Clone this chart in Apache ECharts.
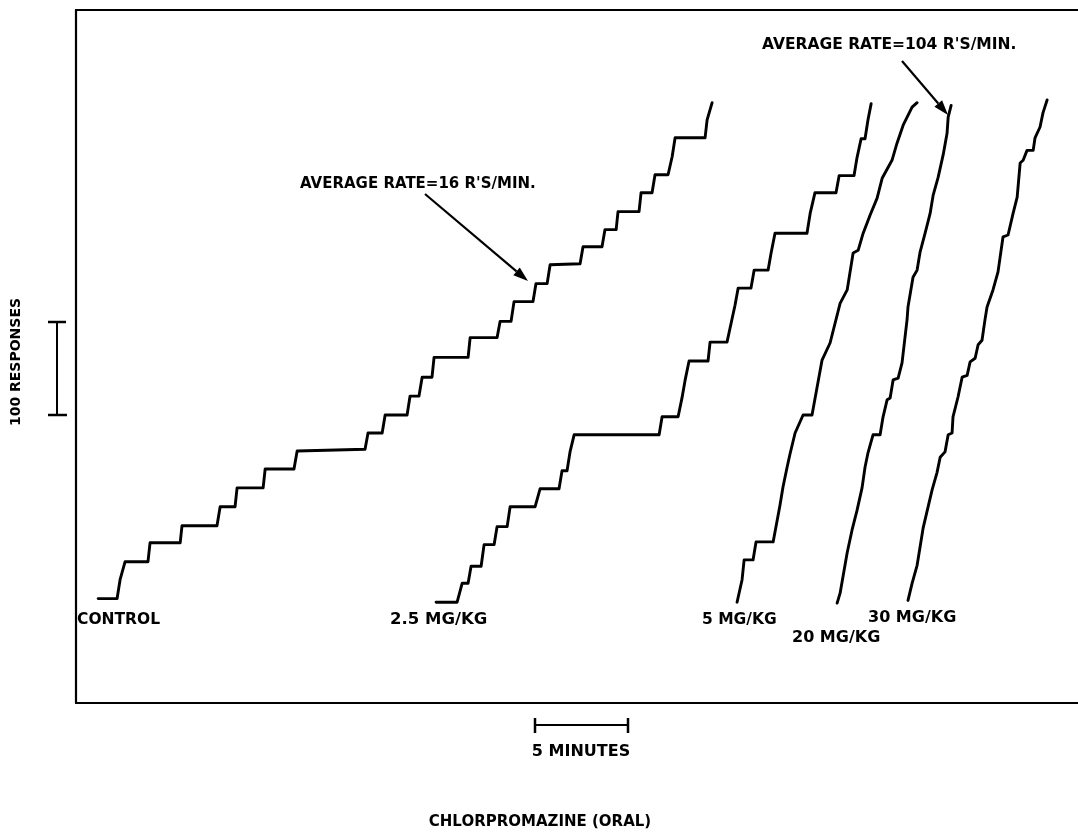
<!DOCTYPE html>
<html>
<head>
<meta charset="utf-8">
<script src="https://cdn.jsdelivr.net/npm/echarts@6/dist/echarts.min.js"></script>
<style>html,body{margin:0;padding:0;background:#fff;}#c{width:1078px;height:835px;}</style>
</head>
<body>
<div id="c"></div>
<script>
// Cumulative records: [time (min), cumulative responses]
const curveNames = ['CONTROL', '2.5 MG/KG', '5 MG/KG', '20 MG/KG', '30 MG/KG'];
const control = [[1.24,116],[2.26,116],[2.42,137],[2.69,157],[3.92,157],[4.03,178],[5.65,178],[5.75,197],[7.63,197],[7.80,218],[8.60,218],[8.71,239],[10.11,239],[10.22,260],[11.77,260],[11.94,280],[15.59,282],[15.75,300],[16.51,300],[16.67,320],[17.85,320],[18.01,341],[18.49,341],[18.66,362],[19.19,362],[19.30,384],[21.13,384],[21.24,406],[22.69,406],[22.85,424],[23.44,424],[23.60,446],[24.62,446],[24.78,466],[25.38,466],[25.54,487],[27.15,488],[27.31,507],[28.33,507],[28.49,526],[29.09,526],[29.19,546],[30.32,546],[30.43,567],[31.02,567],[31.18,587],[31.88,587],[32.10,607],[32.26,628],[33.87,628],[33.98,648],[34.25,667]];
const mg2_5 = [[19.41,112],[20.54,112],[20.81,133],[21.13,133],[21.29,152],[21.83,152],[21.99,176],[22.53,176],[22.69,196],[23.23,196],[23.39,218],[24.73,218],[25.00,238],[26.02,238],[26.18,258],[26.45,258],[26.61,279],[26.83,298],[31.40,298],[31.56,318],[32.42,318],[32.63,339],[32.80,359],[33.01,380],[34.03,380],[34.14,401],[35.05,401],[35.27,422],[35.48,442],[35.65,461],[36.34,461],[36.51,481],[37.26,481],[37.42,500],[37.63,522],[39.35,522],[39.52,544],[39.78,567],[40.91,567],[41.08,586],[41.88,586],[42.04,606],[42.26,627],[42.47,627],[42.63,648],[42.80,666]];
const mg5 = [[35.59,112],[35.86,137],[35.97,159],[36.45,159],[36.61,179],[37.53,179],[37.90,220],[38.06,240],[38.28,262],[38.44,277],[38.71,300],[39.14,320],[39.62,320],[40.16,381],[40.59,400],[41.13,444],[41.51,459],[41.83,500],[42.10,503],[42.37,522],[42.74,542],[43.12,561],[43.39,583],[43.92,603],[44.19,622],[44.52,642],[45.00,662],[45.27,667]];
const mg20 = [[40.97,111],[41.13,122],[41.51,167],[41.77,192],[42.04,214],[42.31,239],[42.47,262],[42.63,278],[42.90,298],[43.28,298],[43.44,318],[43.66,337],[43.82,339],[43.98,359],[44.25,361],[44.46,378],[44.73,426],[44.78,440],[45.05,473],[45.27,481],[45.43,501],[45.70,522],[45.97,544],[46.13,564],[46.40,584],[46.67,609],[46.88,633],[46.94,651],[47.10,664]];
const mg30 = [[44.78,114],[45.00,133],[45.27,153],[45.59,194],[45.86,218],[46.08,237],[46.34,256],[46.51,273],[46.77,279],[46.94,298],[47.15,300],[47.20,318],[47.47,340],[47.69,362],[47.96,364],[48.12,379],[48.39,383],[48.55,398],[48.76,403],[48.92,426],[49.03,440],[49.35,459],[49.62,479],[49.89,518],[50.16,520],[50.43,544],[50.65,562],[50.81,600],[50.97,603],[51.18,614],[51.51,614],[51.61,628],[51.88,640],[52.04,656],[52.26,670]];
const curves = [control, mg2_5, mg5, mg20, mg30];
const rateNotes = ["AVERAGE RATE=16 R'S/MIN.", "AVERAGE RATE=104 R'S/MIN."];
const scaleNotes = ['100 RESPONSES', '5 MINUTES'];
const figTitle = 'CHLORPROMAZINE (ORAL)';

const chart = echarts.init(document.getElementById('c'), null, {renderer: 'canvas'});
const FONT = '"DejaVu Sans", "Liberation Sans", sans-serif';
const INK = '#000';
const axisCommon = {
  type: 'value', min: 0.05, max: 53.92,
  axisTick: {show: false}, axisLabel: {show: false}, splitLine: {show: false},
  axisLine: {show: true, lineStyle: {color: INK, width: 2.2}}
};
function txt(text, x, y, size, align) {
  return {type: 'text', x: x, y: y, silent: true,
    style: {text: text, x: 0, y: 0, fill: INK, font: 'bold ' + size + 'px ' + FONT,
      textAlign: align || 'left', textVerticalAlign: 'middle'}};
}
function seg(x1, y1, x2, y2, w) {
  return {type: 'line', silent: true, shape: {x1: x1, y1: y1, x2: x2, y2: y2},
    style: {stroke: INK, lineWidth: w || 2}};
}
function arrow(x1, y1, tx, ty) {
  const dx = tx - x1, dy = ty - y1, L = Math.hypot(dx, dy);
  const ux = dx / L, uy = dy / L, bx = tx - 15 * ux, by = ty - 15 * uy;
  const nx = -uy, ny = ux;
  return [seg(x1, y1, bx, by, 2.2),
    {type: 'polygon', silent: true, shape: {points: [[tx, ty], [bx + 5 * nx, by + 5 * ny], [bx - 5 * nx, by - 5 * ny]]},
      style: {fill: INK}}];
}
const rotated = txt(scaleNotes[0], 16, 362, 14, 'center');
rotated.rotation = Math.PI / 2;

const graphics = [
  txt(rateNotes[0], 300, 184, 15, 'left'),
  txt(rateNotes[1], 762, 45, 15.5, 'left'),
  ...arrow(425, 194, 528, 281),
  ...arrow(902, 61, 948, 115),
  txt(curveNames[0], 77, 620, 15.5, 'left'),
  txt(curveNames[1], 390, 620, 16.5, 'left'),
  txt(curveNames[2], 702, 620, 15.5, 'left'),
  txt(curveNames[3], 792, 638, 16, 'left'),
  txt(curveNames[4], 868, 618, 16, 'left'),
  rotated,
  seg(57, 322, 57, 415, 2), seg(48, 322, 66, 322, 2.5), seg(48, 415, 67, 415, 2.5),
  seg(535, 725, 628, 725, 2), seg(535, 718, 535, 733, 2.5), seg(628, 718, 628, 733, 2.5),
  txt(scaleNotes[1], 581, 752, 16, 'center'),
  txt(figTitle, 540, 822, 15, 'center')
];

chart.setOption({
  animation: false,
  backgroundColor: '#fff',
  grid: {left: 76, top: 10, right: 0, bottom: 132, containLabel: false},
  xAxis: [Object.assign({position: 'bottom'}, axisCommon), Object.assign({position: 'top'}, axisCommon)],
  yAxis: {type: 'value', min: 0, max: 770, axisTick: {show: false}, axisLabel: {show: false},
    splitLine: {show: false}, axisLine: {show: true, lineStyle: {color: INK, width: 2.2}}},
  series: curves.map((d, i) => ({
    name: curveNames[i], type: 'line', data: d, xAxisIndex: 0, yAxisIndex: 0,
    showSymbol: false, symbol: 'none', smooth: false,
    lineStyle: {color: INK, width: 2.9, join: 'round', cap: 'round'}
  })),
  graphic: graphics
});
</script>
</body>
</html>
